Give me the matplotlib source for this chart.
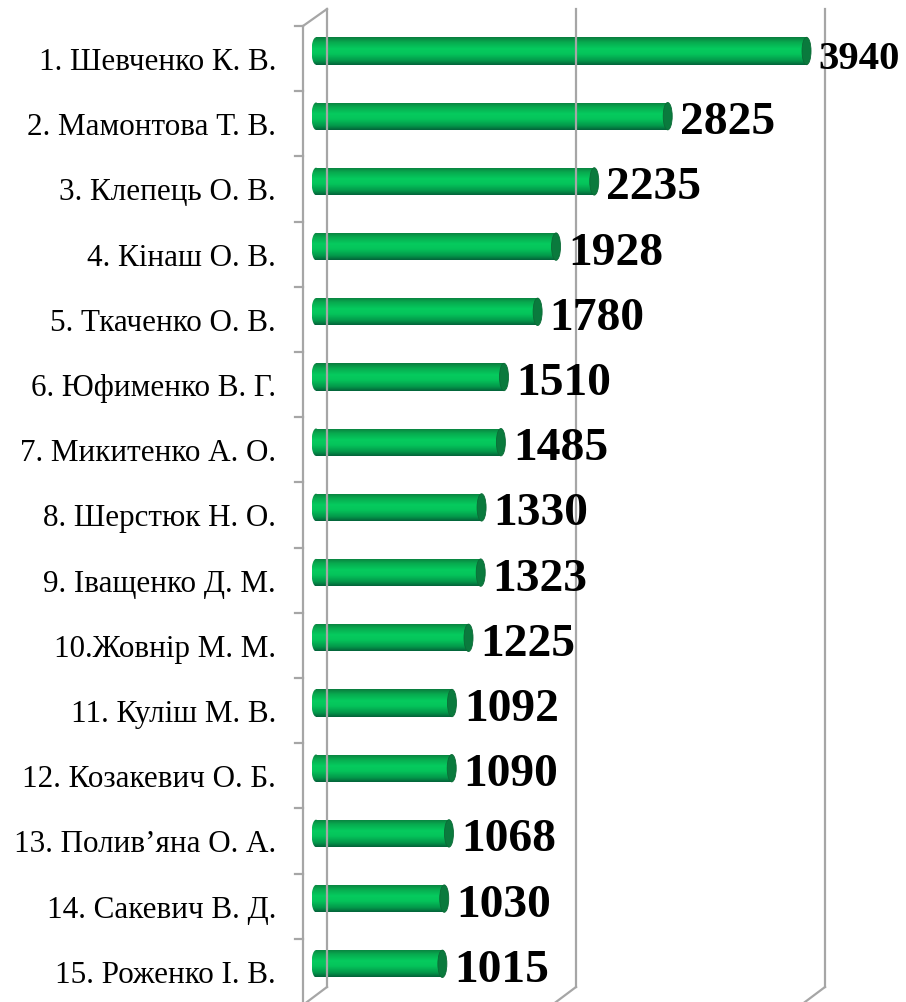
import numpy as np
import matplotlib
matplotlib.use("Agg")
import matplotlib.pyplot as plt
import matplotlib.transforms as mtrans
from matplotlib.patches import Ellipse, Rectangle
from matplotlib.colors import LinearSegmentedColormap

# Data
names = [
    "1. Шевченко К. В.", "2. Мамонтова Т. В.", "3. Клепець О. В.",
    "4. Кінаш О. В.", "5. Ткаченко О. В.", "6. Юфименко В. Г.",
    "7. Микитенко А. О.", "8. Шерстюк Н. О.", "9. Іващенко Д. М.",
    "10.Жовнір М. М.", "11. Куліш М. В.", "12. Козакевич О. Б.",
    "13. Полив’яна О. А.", "14. Сакевич В. Д.", "15. Роженко І. В.",
]
values = [3940, 2825, 2235, 1928, 1780, 1510, 1485, 1330, 1323, 1225,
          1092, 1090, 1068, 1030, 1015]
grid_values = [0, 2000, 4000]

W, H = 906, 1003
fig = plt.figure(figsize=(W / 100, H / 100), dpi=100)
ax_left = 290
ax = fig.add_axes([ax_left / W, 0, (W - ax_left) / W, 1])
ax.axis("off")

zero_px = 316             # where value 0 sits
x_scale = 0.1245          # px per unit
row_px = 65.2             # px per category
first_px = 52             # centre of first bar
xlim = (-(zero_px - ax_left) / x_scale, (W - zero_px) / x_scale)
ylim = ((H - first_px) / row_px, -first_px / row_px)

bar_h = 0.42
cap_w = 9 / x_scale

cmap = LinearSegmentedColormap.from_list("cyl", [
    (0.00, "#0a7d3e"), (0.18, "#08aa4f"), (0.42, "#05cb5e"),
    (0.60, "#05c55b"), (0.85, "#03984a"), (1.00, "#04633a")])
grad = np.linspace(0, 1, 64).reshape(-1, 1)

for i, v in enumerate(values):
    # left rounded end
    left = Ellipse((0, i), cap_w, bar_h, facecolor="none", edgecolor="none")
    ax.add_patch(left)
    im = ax.imshow(grad, cmap=cmap, aspect="auto", origin="upper",
                   extent=(-cap_w / 2, cap_w / 2, i + bar_h / 2, i - bar_h / 2),
                   interpolation="bilinear")
    im.set_clip_path(left)
    # body
    body = Rectangle((0, i - bar_h / 2), v, bar_h, facecolor="none",
                     edgecolor="none")
    ax.add_patch(body)
    im = ax.imshow(grad, cmap=cmap, aspect="auto", origin="upper",
                   extent=(0, v, i + bar_h / 2, i - bar_h / 2),
                   interpolation="bilinear")
    im.set_clip_path(body)
    # right end cap
    ax.add_patch(Ellipse((v, i), cap_w, bar_h, facecolor="#0a7a3d",
                         edgecolor="#0b6a36", lw=0.6, zorder=3))

ax.set_xlim(*xlim)
ax.set_ylim(*ylim)

# pixel coordinate helper (origin top-left)
px = mtrans.Affine2D().scale(1 / W, -1 / H).translate(0, 1) + fig.transFigure


def to_px(x, y):
    dx, dy = ax.transData.transform((x, y))
    return dx, H - dy


wall = dict(color="#a6a6a6", lw=1.6, transform=px, clip_on=False, zorder=0)
back_dx, front_dx, front_dy = 11, -13, 7.6
back_top, back_bot = 10, 988
front_top, front_bot = 27, 1005

# back wall gridlines and floor diagonals
for g in grid_values:
    xb = to_px(g, 0)[0] + back_dx
    ax.plot([xb, xb], [back_top, back_bot], **wall)
    ax.plot([xb, xb - 24], [back_bot, back_bot + 18], **wall)

# side wall
x0b = to_px(0, 0)[0] + back_dx
x0f = to_px(0, 0)[0] + front_dx
ax.plot([x0f, x0b], [front_top, back_top], **wall)
ax.plot([x0f, x0f], [front_top, front_bot], **wall)
for k in range(len(values) + 1):
    yk = to_px(0, k - 0.5)[1] + front_dy
    ax.plot([x0f - 8, x0f], [yk, yk], **wall)

serif = ["Liberation Serif", "DejaVu Serif"]
renderer = fig.canvas.get_renderer()
for i, (n, v) in enumerate(zip(names, values)):
    ax.annotate(n, (0, i), xytext=(-40, -18), textcoords="offset pixels",
                ha="right", va="baseline", fontsize=22.4, family=serif,
                annotation_clip=False)
    t = ax.annotate(str(v), (v, i), xytext=(12, -17), textcoords="offset pixels",
                    ha="left", va="baseline", fontsize=34.2, fontweight="bold",
                    family=serif, annotation_clip=False)
    # the longest bar's label is squeezed against the right edge, as in the original
    bb = t.get_window_extent(renderer)
    if bb.x1 > W - 6:
        t.set_fontsize(34.2 * (W - 6 - bb.x0) / bb.width)

fig.savefig("out.png", dpi=100)
